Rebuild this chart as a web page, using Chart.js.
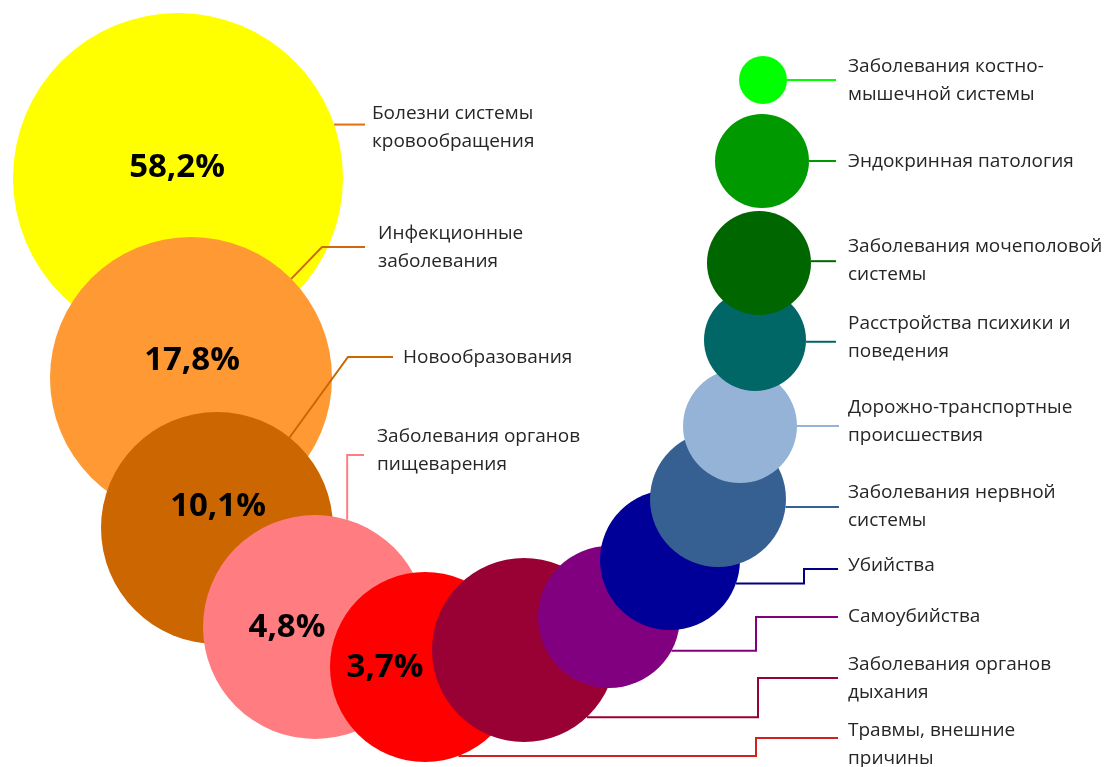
<!DOCTYPE html>
<html>
<head>
<meta charset="utf-8">
<script src="https://cdn.jsdelivr.net/npm/chart.js@4.4.0/dist/chart.umd.min.js"></script>
<style>
  body { margin: 0; background: #fff; }
  #wrap { width: 1105px; height: 767px; }
</style>
</head>
<body>
<div id="wrap"><canvas id="myChart"></canvas></div>
<script>
// Structure of mortality by cause
const categories = [
    'Болезни системы\nкровообращения',
    'Инфекционные\nзаболевания',
    'Новообразования',
    'Заболевания органов\nпищеварения',
    'Травмы, внешние\nпричины',
    'Заболевания органов\nдыхания',
    'Самоубийства',
    'Убийства',
    'Заболевания нервной\nсистемы',
    'Дорожно-транспортные\nпроисшествия',
    'Расстройства психики и\nповедения',
    'Заболевания мочеполовой\nсистемы',
    'Эндокринная патология',
    'Заболевания костно-\nмышечной системы'
];
const shareLabels = ['58,2%', '17,8%', '10,1%', '4,8%', '3,7%', '', '', '', '', '', '', '', '', ''];

// bubble values (x, y on a 0..1105 / 0..767 grid, r = bubble size)
const bubbleX = [178, 191, 217, 315, 425, 524, 609, 670, 718, 740, 755, 759, 762, 763];
const bubbleY = [178, 378, 528, 627, 667, 650, 617, 560, 499, 426, 340, 263, 161, 80];
const bubbleR = [165, 141, 116, 112, 95, 92, 71, 70, 68, 57, 51, 52, 47, 24];

// colours
const fillColors = ['#FFFF00', '#FF9933', '#CC6600', '#FF7C80', '#FF0000', '#990033', '#800080',
    '#000099', '#376092', '#95B3D7', '#006666', '#006600', '#009900', '#00FF00'];
const lineColors = ['#E46C0A', '#D2670F', '#CC6600', '#FF7C80', '#D02020', '#990033', '#800080',
    '#000080', '#376092', '#95B3D7', '#006666', '#006600', '#009900', '#00FF00'];

// label layout: text position (left, first line middle) and leader path
const labelX = [372, 378, 403, 377, 848, 848, 848, 848, 848, 848, 848, 848, 848, 848];
const labelY = [114, 234, 358, 437, 731, 665, 617, 566, 493, 408, 324, 247, 162, 67];
const pctX = [177, 192, 218, 287, 385];
const pctY = [168, 361, 507, 628, 668];
const leaders = [
    { angle: -18.9, path: [['h', 365]] },
    { angle: -44.7, path: [['l', 322, 247], ['h', 365]] },
    { angle: -51.3, path: [['l', 348, 357], ['h', 393]] },
    { angle: -73.3, path: [['v', 455], ['h', 364]] },
    { angle: 69.4, path: [['h', 756], ['v', 738], ['h', 838]] },
    { angle: 46.9, path: [['h', 758], ['v', 678], ['h', 838]] },
    { angle: 28.4, path: [['h', 756], ['v', 617], ['h', 838]] },
    { angle: 19.7, path: [['h', 804], ['v', 569], ['h', 838]] },
    { angle: 6.7, path: [['h', 839]] },
    { angle: 0, path: [['h', 839]] },
    { angle: 2, path: [['h', 836]] },
    { angle: -2, path: [['h', 836]] },
    { angle: 0, path: [['h', 836]] },
    { angle: 0, path: [['h', 836]] }
];

const bubbleData = bubbleX.map((x, i) => ({ x: x, y: bubbleY[i], r: bubbleR[i] }));

// Draw leader lines, category texts and percentages
const labelPlugin = {
    id: 'bubbleLabels',
    afterDatasetsDraw(chart) {
        const ctx = chart.ctx;
        const xs = chart.scales.x;
        const ys = chart.scales.y;
        const meta = chart.getDatasetMeta(0);

        ctx.save();
        meta.data.forEach((el, i) => {
            const r = el.options.radius;
            const a = leaders[i].angle * Math.PI / 180;
            let px = el.x + Math.cos(a) * r;
            let py = el.y + Math.sin(a) * r;
            ctx.beginPath();
            ctx.strokeStyle = lineColors[i];
            ctx.lineWidth = 2;
            ctx.moveTo(px, py);
            leaders[i].path.forEach(step => {
                if (step[0] === 'h') px = xs.getPixelForValue(step[1]);
                else if (step[0] === 'v') py = ys.getPixelForValue(step[1]);
                else { px = xs.getPixelForValue(step[1]); py = ys.getPixelForValue(step[2]); }
                ctx.lineTo(px, py);
            });
            ctx.stroke();

            ctx.fillStyle = '#262626';
            ctx.font = '19px "Open Sans"';
            ctx.textAlign = 'left';
            ctx.textBaseline = 'middle';
            categories[i].split('\n').forEach((line, j) => {
                ctx.fillText(line, xs.getPixelForValue(labelX[i]), ys.getPixelForValue(labelY[i]) + j * 28);
            });
        });

        ctx.fillStyle = '#000';
        ctx.font = 'bold 33px "Open Sans"';
        ctx.textAlign = 'center';
        pctX.forEach((x, i) => {
            ctx.fillText(shareLabels[i], xs.getPixelForValue(x), ys.getPixelForValue(pctY[i]));
        });
        ctx.restore();
    }
};

const ctx = document.getElementById('myChart').getContext('2d');
new Chart(ctx, {
    type: 'bubble',
    data: {
        datasets: [{
            label: 'Смертность',
            data: bubbleData,
            backgroundColor: fillColors,
            hoverBackgroundColor: fillColors,
            borderWidth: 0,
            hoverBorderWidth: 0,
            clip: false
        }]
    },
    options: {
        responsive: true,
        maintainAspectRatio: false,
        animation: false,
        layout: { padding: 0, autoPadding: false },
        plugins: {
            legend: { display: false },
            tooltip: { enabled: false }
        },
        scales: {
            x: { min: 0, max: 1105, display: false },
            y: { min: 0, max: 767, reverse: true, display: false }
        }
    },
    plugins: [labelPlugin]
});
</script>
</body>
</html>
